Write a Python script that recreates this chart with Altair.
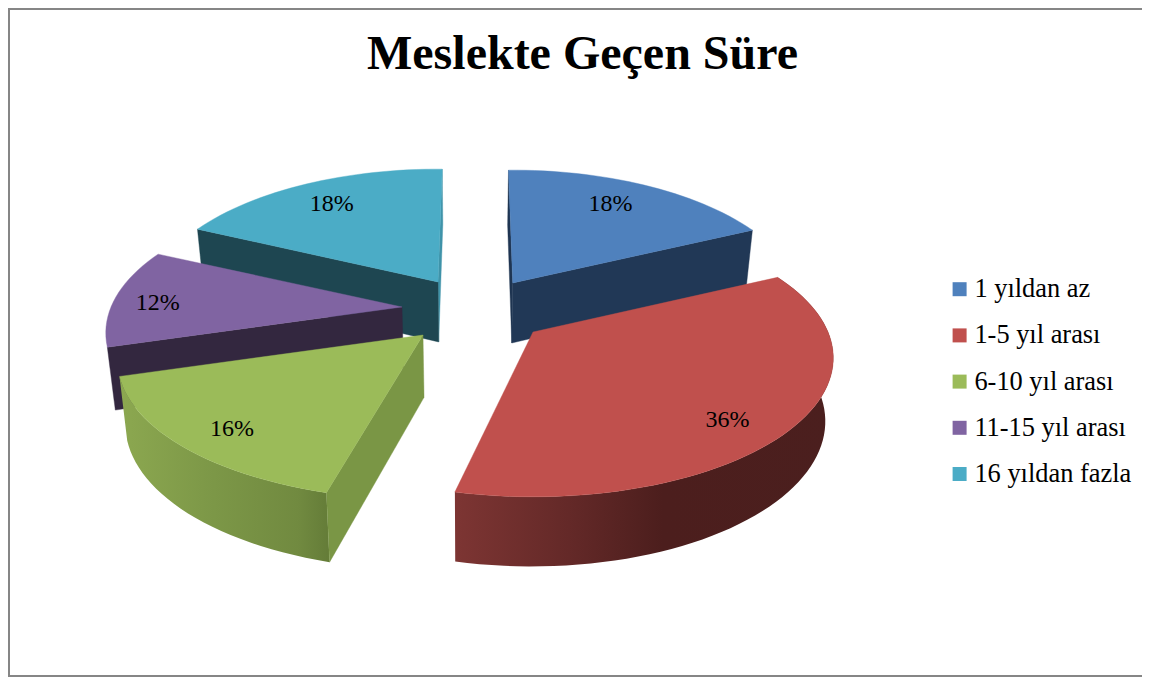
import math
import altair as alt
import pandas as pd

TITLE = "Meslekte Geçen Süre"
categories = ["1 yıldan az", "1-5 yıl arası", "6-10 yıl arası", "11-15 yıl arası", "16 yıldan fazla"]
shares = [18, 36, 16, 12, 18]
top_colors = ["#4F81BD", "#C0504D", "#9BBB59", "#8064A2", "#4BACC6"]
wall_colors = ["#213856", "#C0504D", "#7A9645", "#33273F", "#1E4651"]
sliver_colors = ["#1F3552", None, None, None, "#3F93A9"]

# projection / layout parameters of the exploded 3D pie (page pixels)
PERSP = 0.187
RY = 134
apex_x = [512.7, 533, 423, 402, 438]
apex_y = [283, 332, 335, 307, 282]
radius_x = [286, 295, 300, 291, 287]
start_shift = [-1.0, -1.0, 0.9, 1.5, 0]
end_shift = [0, -1.9, 1.0, 0, 1.0]
label_angle = [30.0, 135.0, 222.2, 272.1, 327.5]
label_radius = [0.77, 0.83, 0.838, 0.845, 0.773]
FONT = "Liberation Serif"

# slice angles come from the shares
starts, ends, acc = [], [], 0
for i, s in enumerate(shares):
    starts.append(acc * 3.6 + start_shift[i])
    acc += s
    ends.append(acc * 3.6 + end_shift[i])


def rim(i, deg, r=1.0):
    a = math.radians(deg)
    u, v = r * math.sin(a), r * math.cos(a)
    f = 1 / (1 + PERSP * v)
    return apex_x[i] + radius_x[i] * u * f, apex_y[i] - RY * v * f


def drop(p):
    """Bottom edge of the pie under a point of its top face."""
    x, y = p
    depth = 60 + (y - 283) * 0.045
    return x + (470 - x) * 0.022, y + depth


def arc(i, a0, a1):
    n = max(2, int(abs(a1 - a0) / 2))
    return [rim(i, a0 + (a1 - a0) * k / n) for k in range(n + 1)]


X = alt.X("x:Q", scale=alt.Scale(domain=[8, 1142], nice=False, zero=False), axis=None)
Y = alt.Y("y:Q", scale=alt.Scale(domain=[678, 78], nice=False, zero=False), axis=None)


def poly(points, fill, edge=0.4):
    pts = list(points) + [points[0]]
    df = pd.DataFrame({"x": [p[0] for p in pts], "y": [p[1] for p in pts], "o": range(len(pts))})
    stroke = fill if isinstance(fill, str) else "#777777"
    kw = {"stroke": stroke, "strokeWidth": edge} if isinstance(fill, str) else {"strokeWidth": 0}
    return alt.Chart(df).mark_line(fill=fill, interpolate="linear", **kw).encode(
        x=X, y=Y, order=alt.Order("o:Q")
    )


def grad(stops):
    return alt.Gradient(
        gradient="linear", x1=0, x2=1, y1=0, y2=0,
        stops=[alt.GradientStop(offset=o, color=c) for o, c in stops],
    )


def apex(i):
    return apex_x[i], apex_y[i]


def cut_wall(i, deg):
    """Flat face between the apex and the rim at angle deg."""
    p = rim(i, deg)
    a = apex(i)
    return [p, a, drop(a), drop(p)]


def rim_wall(i):
    top = arc(i, starts[i], ends[i])
    return top + [drop(p) for p in reversed(top)]


layers = []
# legend carrier, hidden below the top faces
legend_df = pd.DataFrame({"cat": categories, "x": apex_x, "y": apex_y})
layers.append(
    alt.Chart(legend_df).mark_square(size=1, opacity=1).encode(
        x=X, y=Y,
        color=alt.Color(
            "cat:N",
            sort=categories,
            scale=alt.Scale(domain=categories, range=top_colors),
            legend=alt.Legend(
                orient="none", legendX=938.4, legendY=198, title=None,
                symbolType="square", symbolSize=196, symbolStrokeWidth=0,
                symbolOpacity=1,
                labelFont=FONT, labelFontSize=26.4, labelColor="#000000",
                labelLimit=300, labelOffset=1.6, rowPadding=19.2,
            ),
        ),
    )
)

# cyan
layers += [poly(cut_wall(4, ends[4]), sliver_colors[4]),
           poly(cut_wall(4, starts[4]), wall_colors[4]),
           poly([apex(4)] + arc(4, starts[4], ends[4]), top_colors[4])]
# purple
layers += [poly(cut_wall(3, starts[3]), wall_colors[3]),
           poly([apex(3)] + arc(3, starts[3], ends[3]), top_colors[3])]
# blue
layers += [poly(cut_wall(0, starts[0]), sliver_colors[0]),
           poly(cut_wall(0, ends[0]), wall_colors[0]),
           poly([apex(0)] + arc(0, starts[0], ends[0]), top_colors[0])]
# green
layers += [poly(rim_wall(2), grad([(0, "#8CA850"), (0.45, "#7C9747"), (0.85, "#718A40"), (1, "#647C38")])),
           poly(cut_wall(2, starts[2]), wall_colors[2]),
           poly([apex(2)] + arc(2, starts[2], ends[2]), top_colors[2])]
# red
layers += [poly(rim_wall(1), grad([(0, "#7D3533"), (0.3, "#642928"), (0.55, "#4C1E1D"), (1, "#4B1F1E")])),
           poly([apex(1)] + arc(1, starts[1], ends[1]), top_colors[1])]

# percentage labels
lab = [rim(i, label_angle[i], label_radius[i]) for i in range(5)]
label_df = pd.DataFrame({
    "x": [p[0] for p in lab], "y": [p[1] for p in lab],
    "t": [f"{s}%" for s in shares],
})
layers.append(
    alt.Chart(label_df).mark_text(font=FONT, fontSize=24, color="#000000", baseline="middle", align="center")
    .encode(x=X, y=Y, text="t:N")
)

# chart frame (top, left, bottom)
frame = "#868686"
layers += [
    alt.Chart(pd.DataFrame({"k": [0]})).mark_rule(color=frame, strokeWidth=2).encode(
        x=alt.value(0), x2=alt.value(1134), y=alt.value(-69)),
    alt.Chart(pd.DataFrame({"k": [0]})).mark_rule(color=frame, strokeWidth=2).encode(
        x=alt.value(1), y=alt.value(-70), y2=alt.value(598)),
    alt.Chart(pd.DataFrame({"k": [0]})).mark_rule(color=frame, strokeWidth=2).encode(
        x=alt.value(0), x2=alt.value(1134), y=alt.value(598)),
]

chart = alt.layer(*layers).properties(
    width=1134, height=600,
    padding={"left": 0, "right": 0, "top": 70, "bottom": 0},
    autosize=alt.AutoSizeParams(type="none"),
    background="#FFFFFF",
    title=alt.TitleParams(
        TITLE, font=FONT, fontSize=48, fontWeight="bold", color="#000000",
        anchor="middle", baseline="alphabetic", offset=-110, dx=7.5,
    ),
).configure_view(stroke=None)

chart.save("out.html", embed_options={"renderer": "svg", "actions": False})
